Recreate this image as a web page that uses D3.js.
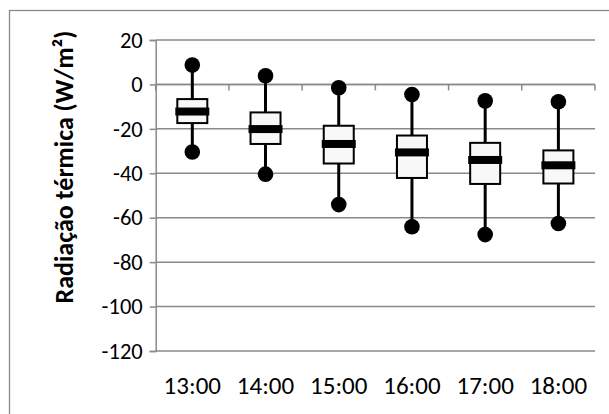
<!DOCTYPE html>
<html><head><meta charset="utf-8">
<script src="https://cdn.jsdelivr.net/npm/d3@7"></script>
<style>body{margin:0;background:#fff}svg{display:block}</style>
</head><body>
<svg id="c" width="609" height="414"></svg>
<script>
const categories = ["13:00","14:00","15:00","16:00","17:00","18:00"];
const minVals    = [-30.4, -40.4, -54.1, -64.1, -67.6, -62.6];
const q1Vals     = [-17.4, -26.8, -35.6, -42.1, -44.8, -44.6];
const medianVals = [-12.2, -20.1, -26.8, -30.6, -34.0, -36.4];
const q3Vals     = [-6.6, -12.6, -18.6, -23.0, -26.3, -29.7];
const maxVals    = [8.7, 3.9, -1.5, -4.5, -7.4, -7.8];
const yTicks     = [20, 0, -20, -40, -60, -80, -100, -120];
const yTitle     = "Radiação térmica (W/m²)";

const data = categories.map((c,i)=>({c,min:minVals[i],q1:q1Vals[i],med:medianVals[i],q3:q3Vals[i],max:maxVals[i]}));
const svg = d3.select("#c");
const font = "Carlito, Calibri, Lato, 'Open Sans', sans-serif";
const L=155.7, R=595, T=40, B=351;
const x = d3.scaleBand().domain(categories).range([L,R]).padding(0);
const y = d3.scaleLinear().domain([-120,20]).range([B,T]);
const grid = "#8a8a8a";

svg.append("rect").attr("x",9.5).attr("y",10.5).attr("width",620).attr("height",420)
  .attr("fill","none").attr("stroke","#8a8a8a").attr("stroke-width",1.3);

// gridlines
svg.append("g").selectAll("line").data(yTicks).join("line")
  .attr("x1",L).attr("x2",R).attr("y1",d=>y(d)).attr("y2",d=>y(d))
  .attr("stroke",grid).attr("stroke-width",1.5);

// left axis
const yAxis = d3.axisLeft(y).tickValues(yTicks).tickSize(6).tickPadding(7).tickFormat(d3.format("d"));
const gy = svg.append("g").attr("transform",`translate(${L},0)`).call(yAxis);
gy.select(".domain").attr("stroke",grid).attr("stroke-width",1.5);
gy.selectAll(".tick line").attr("stroke",grid).attr("stroke-width",1.5);
gy.selectAll(".tick text").attr("font-family",font).attr("font-size",22.5).attr("fill","#000")
  .text(d=>d<0?"-"+Math.abs(d):d);

// x axis at y=0 with boundary ticks
const boundaries = categories.map(c=>x(c)).concat([R]);
svg.append("line").attr("x1",L).attr("x2",R).attr("y1",y(0)).attr("y2",y(0)).attr("stroke",grid).attr("stroke-width",1.5);
svg.append("g").selectAll("line").data(boundaries).join("line")
  .attr("x1",d=>d).attr("x2",d=>d).attr("y1",y(0)).attr("y2",y(0)+6)
  .attr("stroke",grid).attr("stroke-width",1.5);

// x labels at bottom
svg.append("g").selectAll("text").data(categories).join("text")
  .attr("x",d=>x(d)+x.bandwidth()/2).attr("y",394)
  .attr("text-anchor","middle").attr("font-family",font).attr("font-size",25).attr("fill","#000")
  .text(d=>d);

// boxes
const cx = d=>x(d.c)+x.bandwidth()/2;
const g = svg.append("g");
g.selectAll(".wh").data(data).join("line")
  .attr("x1",cx).attr("x2",cx).attr("y1",d=>y(d.max)).attr("y2",d=>y(d.min))
  .attr("stroke","#000").attr("stroke-width",3);
g.selectAll(".bx").data(data).join("rect")
  .attr("x",d=>cx(d)-15).attr("width",30)
  .attr("y",d=>y(d.q3)).attr("height",d=>y(d.q1)-y(d.q3))
  .attr("fill","#f8f8f8").attr("stroke","#000").attr("stroke-width",2);
g.selectAll(".md").data(data).join("rect")
  .attr("x",d=>cx(d)-17).attr("width",34)
  .attr("y",d=>y(d.med)-4).attr("height",8).attr("fill","#000");
g.selectAll(".mx").data(data).join("circle")
  .attr("cx",cx).attr("cy",d=>y(d.max)).attr("r",7.8).attr("fill","#000");
g.selectAll(".mn").data(data).join("circle")
  .attr("cx",cx).attr("cy",d=>y(d.min)).attr("r",7.8).attr("fill","#000");

// y title
svg.append("text").attr("transform",`translate(73,167) rotate(-90)`)
  .attr("text-anchor","middle").attr("font-family",font).attr("font-weight","bold")
  .attr("font-size",26).attr("fill","#000").text(yTitle);
</script>
</body></html>
